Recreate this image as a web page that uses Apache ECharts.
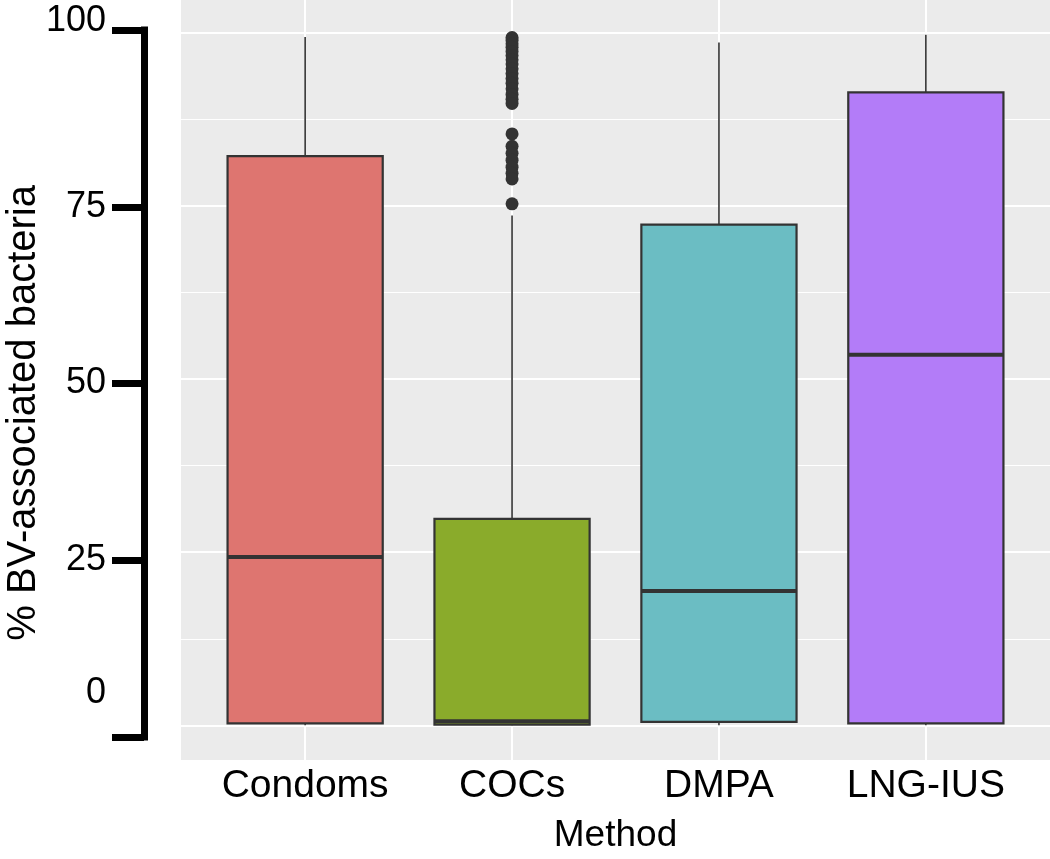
<!DOCTYPE html>
<html>
<head>
<meta charset="utf-8">
<script src="https://cdn.jsdelivr.net/npm/echarts@6/dist/echarts.min.js"></script>
<style>
  html, body { margin: 0; padding: 0; background: #fff; }
  #chart { width: 1050px; height: 859px; }
</style>
</head>
<body>
<div id="chart"></div>
<script>
// box statistics per method (% BV-associated bacteria)
var categories = ["Condoms", "COCs", "DMPA", "LNG-IUS"];
var lowWhisker = [0, 0, 0, 0];
var q1 = [0.3, 0.1, 0.5, 0.3];
var medians = [24.3, 0.6, 19.4, 53.5];
var q3 = [82.2, 29.8, 72.3, 91.4];
var highWhisker = [99.4, 73.6, 98.6, 99.7];
var boxColors = ["#DE7570", "#8AAB2B", "#6BBDC3", "#B37CF8"];

// outliers of the COCs group
var cocOutliers = [99.3, 98.9, 98.4, 97.9, 97.3, 96.7, 96.1, 95.5, 94.8, 94.1, 93.4, 92.7, 91.9, 91.1, 90.4, 89.8,
                   85.4, 83.6, 82.6, 81.6, 80.6, 79.7, 78.9, 75.3];

var yTicks = [0, 25, 50, 75, 100];
var gridMajor = [0, 25, 50, 75, 100];
var gridMinor = [12.5, 37.5, 62.5, 87.5];

var font = "Liberation Sans, Arial, Helvetica, sans-serif";

var boxData = categories.map(function (c, i) {
  return [i + 1, lowWhisker[i], q1[i], medians[i], q3[i], highWhisker[i]];
});
var outlierData = cocOutliers.map(function (v) { return [2, v]; });

var gridLines = [];
gridMajor.forEach(function (v) { gridLines.push({ yAxis: v, lineStyle: { width: 2 } }); });
gridMinor.forEach(function (v) { gridLines.push({ yAxis: v, lineStyle: { width: 1.2 } }); });
categories.forEach(function (c, i) { gridLines.push({ xAxis: i + 1, lineStyle: { width: 2 } }); });

var chart = echarts.init(document.getElementById("chart"));
var option = {
  animation: false,
  backgroundColor: "#fff",
  grid: [
    { left: 181, right: 0, top: 0, bottom: 94, show: true, backgroundColor: "#EBEBEB", borderWidth: 0 },
    { left: 144, width: 10, top: 30, bottom: 122 }
  ],
  xAxis: [
    {
      type: "value", gridIndex: 0, min: 0.4, max: 4.6,
      axisLine: { show: false }, axisTick: { show: false }, splitLine: { show: false },
      axisLabel: {
        customValues: [1, 2, 3, 4],
        formatter: function (v) { return categories[Math.round(v) - 1] || ""; },
        color: "#000", fontSize: 39, fontFamily: font, margin: 7
      },
      name: "Method", nameLocation: "middle", nameGap: 57,
      nameTextStyle: { color: "#000", fontSize: 37, fontFamily: font }
    },
    { type: "value", gridIndex: 1, show: false, min: 0, max: 1 }
  ],
  yAxis: [
    {
      type: "value", gridIndex: 0, min: -5, max: 104.73, show: false,
      splitLine: { show: false }
    },
    {
      type: "value", gridIndex: 1, min: 0, max: 100, interval: 25, position: "left",
      axisLine: { show: true, lineStyle: { color: "#000", width: 7, cap: "square" } },
      axisTick: { show: true, length: 32, lineStyle: { color: "#000", width: 7 } },
      splitLine: { show: false },
      axisLabel: {
        margin: 38,
        formatter: function (v) {
          if (v === 0) return "{zero|0}";
          if (v === 100) return "{top|100}";
          return "{n|" + v + "}";
        },
        rich: {
          n: { fontSize: 36, color: "#000", fontFamily: font },
          zero: { fontSize: 36, color: "#000", fontFamily: font, padding: [0, 0, 88, 0] },
          top: { fontSize: 36, color: "#000", fontFamily: font, padding: [0, 0, 18, 0] }
        }
      }
    }
  ],
  graphic: [
    {
      type: "text", left: 4, top: 185, rotation: Math.PI / 2,
      style: { text: "% BV-associated bacteria", fill: "#000", fontSize: 40, fontFamily: font }
    }
  ],
  series: [
    {
      type: "line", xAxisIndex: 0, yAxisIndex: 0, data: [], z: 1, silent: true,
      markLine: {
        z: 1, silent: true, symbol: "none", label: { show: false },
        lineStyle: { color: "#fff", type: "solid" },
        data: gridLines
      }
    },
    {
      type: "custom", xAxisIndex: 0, yAxisIndex: 0, z: 3,
      data: boxData,
      renderItem: function (params, api) {
        var x = api.value(0);
        var lo = api.coord([x, api.value(1)]);
        var b = api.coord([x, api.value(2)]);
        var m = api.coord([x, api.value(3)]);
        var t = api.coord([x, api.value(4)]);
        var hi = api.coord([x, api.value(5)]);
        var w = api.size([0.75, 0])[0];
        var cx = lo[0];
        return {
          type: "group",
          children: [
            { type: "line", shape: { x1: cx, y1: t[1], x2: cx, y2: hi[1] }, style: { stroke: "#333", lineWidth: 1.6 } },
            { type: "line", shape: { x1: cx, y1: lo[1], x2: cx, y2: b[1] }, style: { stroke: "#333", lineWidth: 1.6 } },
            { type: "rect", shape: { x: cx - w / 2, y: t[1], width: w, height: b[1] - t[1] },
              style: { fill: boxColors[params.dataIndex], stroke: "#333", lineWidth: 2.2 } },
            { type: "line", shape: { x1: cx - w / 2, y1: m[1], x2: cx + w / 2, y2: m[1] }, style: { stroke: "#333", lineWidth: 4 } }
          ]
        };
      }
    },
    {
      type: "scatter", xAxisIndex: 0, yAxisIndex: 0, z: 4,
      data: outlierData, symbolSize: 13,
      itemStyle: { color: "#333", opacity: 1 }
    }
  ]
};
chart.setOption(option);
</script>
</body>
</html>
